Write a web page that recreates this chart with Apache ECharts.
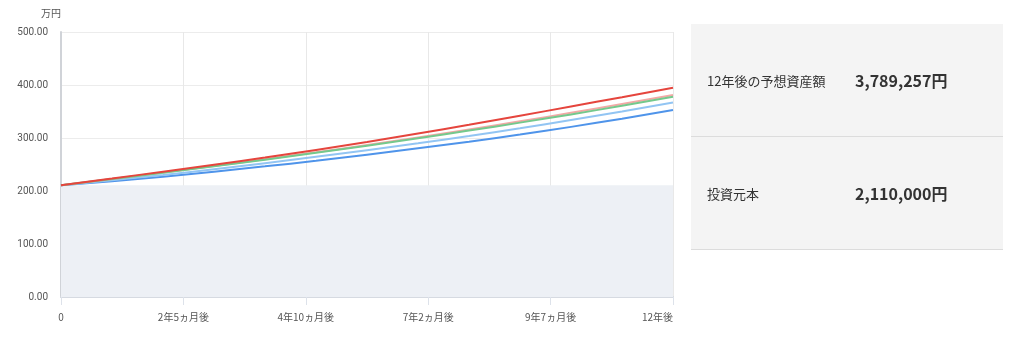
<!DOCTYPE html>
<html>
<head>
<meta charset="utf-8">
<script src="https://cdn.jsdelivr.net/npm/echarts@6/dist/echarts.min.js"></script>
<style>
html,body{margin:0;padding:0;background:#fff;}
#c{width:1024px;height:344px;}
</style>
</head>
<body>
<div id="c"></div>
<script>
// months elapsed
var months = [0, 12, 24, 36, 48, 60, 72, 84, 96, 108, 120, 132, 144];
// 万円
var principal = [211, 211, 211, 211, 211, 211, 211, 211, 211, 211, 211, 211, 211];
var seriesRed = [211, 223.5, 236.5, 249.5, 263, 277.5, 292.5, 308.5, 325, 342, 359.5, 377, 395];
var seriesPink = [211, 222.8, 235, 247.2, 259.8, 273, 286.7, 301, 316, 331.5, 347.5, 364, 381];
var seriesGreen = [211, 222.5, 234.5, 246.5, 259, 272, 285.5, 299.5, 314, 329, 344.5, 361, 378];
var seriesLightBlue = [211, 220.4, 230.3, 241, 252.5, 264.5, 277, 290, 303.7, 318.2, 333.8, 350, 367];
var seriesBlue = [211, 218.5, 227, 236.5, 246.5, 257, 268.5, 280.5, 293, 306.5, 321, 336.5, 353];
var xTickLabels = ['0', '2年5ヵ月後', '4年10ヵ月後', '7年2ヵ月後', '9年7ヵ月後', '12年後'];
var yTickLabels = ['0.00', '100.00', '200.00', '300.00', '400.00', '500.00'];
var panelLabels = ['12年後の予想資産額', '投資元本'];
var panelValues = ['3,789,257円', '2,110,000円'];

function pairs(vals) { return months.map(function (m, i) { return [m, vals[i]]; }); }

var FONT = '"Noto Sans CJK JP", "Noto Sans", sans-serif';
var chart = echarts.init(document.getElementById('c'));

function lineSeries(vals, color, z) {
  return {
    type: 'line', data: pairs(vals), smooth: true, showSymbol: false, z: z,
    lineStyle: { color: color, width: 2 }, itemStyle: { color: color }
  };
}

chart.setOption({
  animation: false,
  backgroundColor: '#fff',
  grid: { left: 61, right: 351, top: 32, bottom: 47 },
  xAxis: {
    type: 'value', min: 0, max: 144, interval: 28.8,
    axisLine: { show: true, lineStyle: { color: '#d6dae1', width: 2 } },
    axisTick: { show: true, length: 8, lineStyle: { color: '#dde2ea' } },
    splitLine: { show: true, lineStyle: { color: '#e8e8e8' } },
    axisLabel: {
      color: '#555', fontSize: 10, fontFamily: FONT, margin: 15, alignMaxLabel: 'right',
      formatter: function (v) { return xTickLabels[Math.round(v / 28.8)]; }
    }
  },
  yAxis: {
    type: 'value', min: 0, max: 500, interval: 100,
    name: '万円', nameGap: 14,
    nameTextStyle: { color: '#555', fontSize: 10, fontFamily: FONT, align: 'right' },
    axisLine: { show: true, lineStyle: { color: '#d0d3d8', width: 2 } },
    axisTick: { show: false },
    splitLine: { show: true, lineStyle: { color: '#ececec' } },
    axisLabel: {
      color: '#555', fontSize: 10, fontFamily: 'Roboto, sans-serif', margin: 13,
      formatter: function (v) { return yTickLabels[Math.round(v / 100)]; }
    }
  },
  series: [
    {
      type: 'line', data: pairs(principal), showSymbol: false, z: 1,
      lineStyle: { width: 0 }, areaStyle: { color: '#edf0f5', opacity: 1 }
    },
    lineSeries(seriesBlue, '#4f94ea', 2),
    lineSeries(seriesLightBlue, '#92c5f3', 3),
    lineSeries(seriesGreen, '#74c98d', 4),
    lineSeries(seriesPink, '#f2a9a6', 3),
    lineSeries(seriesRed, '#e5453d', 5)
  ],
  graphic: [
    { type: 'rect', shape: { x: 691, y: 24, width: 312, height: 225 }, style: { fill: '#f4f4f4' }, z: 0 },
    { type: 'rect', shape: { x: 691, y: 136, width: 312, height: 1 }, style: { fill: '#dcdcdc' }, z: 1 },
    { type: 'rect', shape: { x: 691, y: 249, width: 312, height: 1 }, style: { fill: '#dcdcdc' }, z: 1 },
    { type: 'text', x: 707, y: 81, style: { text: panelLabels[0], fill: '#333', font: '13px ' + FONT, verticalAlign: 'middle' }, z: 2 },
    { type: 'text', x: 855, y: 81, style: { text: panelValues[0], fill: '#333', font: 'bold 16px ' + FONT, verticalAlign: 'middle' }, z: 2 },
    { type: 'text', x: 707, y: 194, style: { text: panelLabels[1], fill: '#333', font: '13px ' + FONT, verticalAlign: 'middle' }, z: 2 },
    { type: 'text', x: 855, y: 194, style: { text: panelValues[1], fill: '#333', font: 'bold 16px ' + FONT, verticalAlign: 'middle' }, z: 2 }
  ]
});
</script>
</body>
</html>
